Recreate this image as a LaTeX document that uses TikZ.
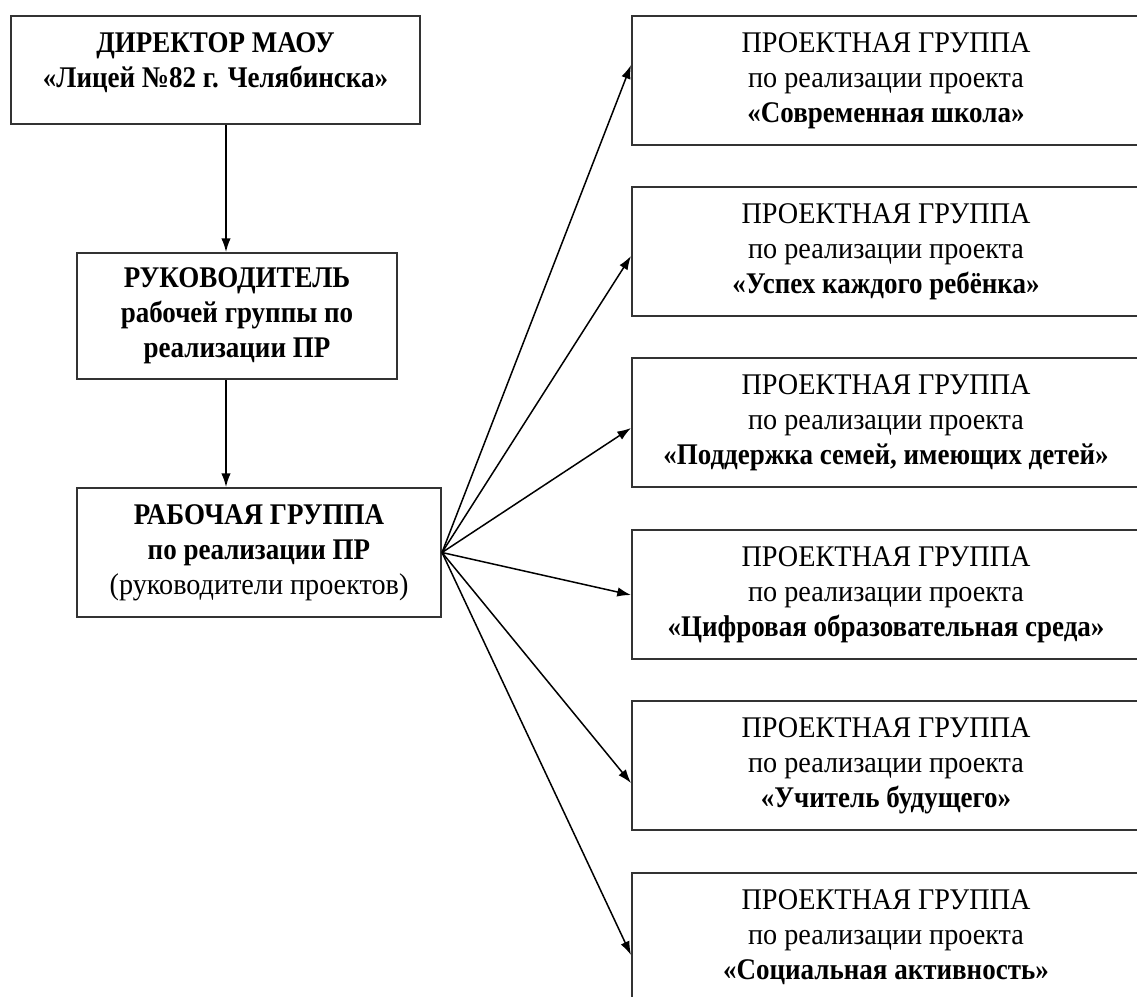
\documentclass[tikz,border=0pt]{standalone}
\usepackage{fontspec}
\setmainfont{Liberation Serif}[FakeStretch=0.94,BoldFeatures={FakeStretch=0.9}]
\usetikzlibrary{calc,arrows.meta}

\begin{document}
\begin{tikzpicture}[
		x={(0.4pt,0pt)},
		y={(0pt,-0.4pt)},
		box/.style={draw=black!80,line width=0.8pt,inner sep=0pt,align=center,font=\fontsize{12}{14}\selectfont},
		projbox/.style={box,minimum width=203.2pt,minimum height=51.6pt},
		arr/.style={-{Latex[length=5.5pt,width=3.8pt]},line width=0.6pt},
	]
		\useasboundingbox (0,0) rectangle (1137,996);
		
		\node[box,minimum width=163.6pt,minimum height=43.2pt] (dir) at (215.5,70) {\textbf{ДИРЕКТОР МАОУ}\\\textbf{«Лицей №82 г. Челябинска»}\\[-6pt]\mbox{}};
		\node[box,minimum width=128pt,minimum height=50.4pt] (head) at (237,316) {\textbf{РУКОВОДИТЕЛЬ}\\\textbf{рабочей группы по}\\\textbf{реализации ПР}};
		\node[box,minimum width=145.6pt,minimum height=51.6pt] (work) at (259,552.5) {\textbf{РАБОЧАЯ ГРУППА}\\\textbf{по реализации ПР}\\(руководители проектов)};
		
		\coordinate (axis) at (226,0);
		\draw[arr] (dir.south -| axis) -- (head.north -| axis);
		\draw[arr] (head.south -| axis) -- (work.north -| axis);
		
		\foreach \n/\y/\name in {1/80.5/{Современная школа}, 2/251.5/{Успех каждого ребёнка}, 3/422.5/{Поддержка семей, имеющих детей}, 4/594.5/{Цифровая образовательная среда}, 5/765.5/{Учитель будущего}, 6/937.5/{Социальная активность}}{
			\node[projbox] (p\n) at (886,\y) {ПРОЕКТНАЯ ГРУППА\\по реализации проекта\\\textbf{«\name»}};
		}
		\foreach \n/\dy in {1/-15.5,2/4.5,3/5.5,4/0.5,5/17.5,6/17.5}{
			\draw[arr] (work.east) -- ($(p\n.west)+(0,\dy)$);
		}
	\end{tikzpicture}
\end{document}
